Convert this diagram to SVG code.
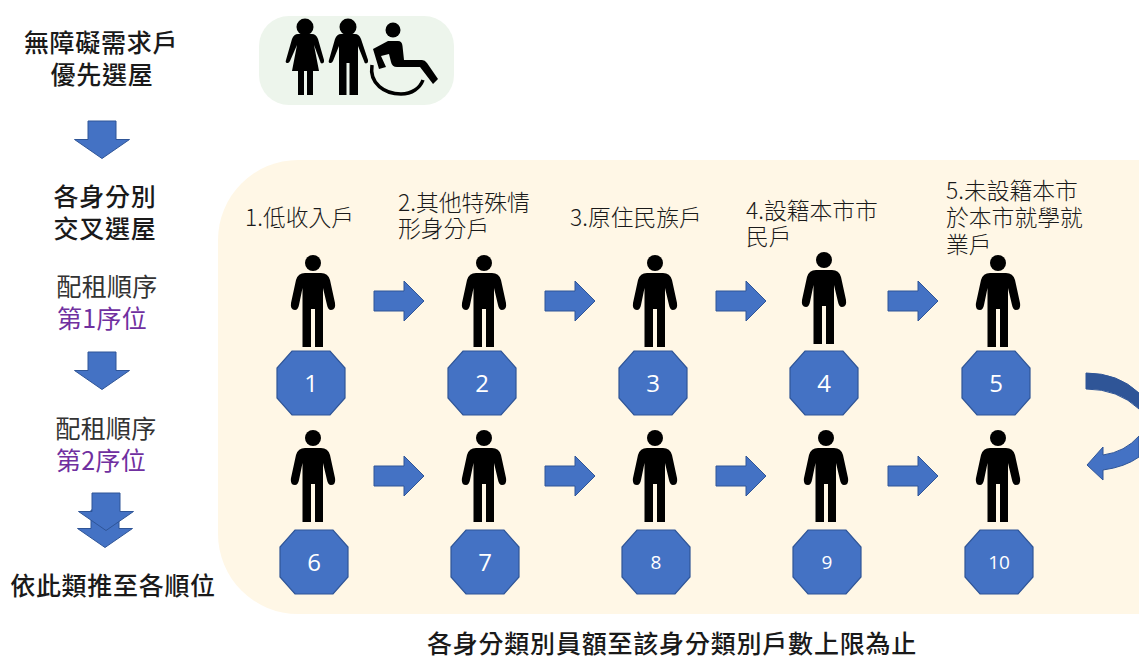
<svg xmlns="http://www.w3.org/2000/svg" xmlns:xlink="http://www.w3.org/1999/xlink" width="1139" height="657" viewBox="0 0 1139 657">
<style>
text{font-family:"Noto Sans CJK TC","Liberation Sans",sans-serif;fill:#1a1a1a}
.b{font-size:25px;font-weight:500;text-anchor:middle;letter-spacing:.7px}
.m{font-size:25px;text-anchor:middle;fill:#333;letter-spacing:.3px}
.p{fill:#7030a0}
.l{font-size:22.800px;font-weight:300}
.n{font-family:"Open Sans","Liberation Sans",sans-serif;fill:#fff;text-anchor:middle;font-size:24px}
.oct{fill:#4472c4;stroke:#2f5597;stroke-width:1.2}
.ar{fill:#4472c4;stroke:#2f5597;stroke-width:1}
</style>
<defs>
<g id="person"><circle cx="0" cy="8" r="8"/><path d="M-8,18H8Q15,18 17,25L22,48Q23,55 18,55Q15,55 14,50L10,33V92H2V54H-2V92H-10.500V33L-14,50Q-15,55 -18,55Q-23,55 -22,48L-17,25Q-15,18 -8,18Z"/></g>
<path id="oct" class="oct" d="M-19,-32H19L34,-15V15L19,32H-19L-34,15V-15Z"/>
<path id="right" class="ar" d="M0,10H30V0L50,20L30,40V30H0Z"/>
<path id="down" class="ar" d="M-14,0H14V18.500H27.500L0,37.500L-27.500,18.500H-14Z"/>
</defs>
<rect width="1139" height="657" fill="#fff"/>
<rect id="panel" x="218" y="160" width="1000" height="454" rx="80" fill="#fff7e6"/>
<g id="icon">
<rect x="259" y="16" width="195" height="89" rx="30" fill="#edf5ec"/>
<circle cx="305" cy="27" r="8.500"/><path d="M298,34H312Q316,34 318,39L324,60Q324.500,63 322,63.500Q320.500,63.500 320,61L314,45L319,71H313V95H307V71H304V95H298V71H292L297,45L290,61Q289,63.500 287,63Q285,62.500 286,60L292,39Q294,34 298,34Z"/>
<circle cx="348" cy="27" r="8.500"/><path d="M341,34H355Q359,34 361,39L368,60Q368.500,63 366,63.500Q364.500,63.500 364,61L358,46V95H349.500V63H346.500V95H339V46L333,61Q332,63.500 330,63Q328,62.500 329,60L335,39Q337,34 341,34Z"/>
<circle cx="393" cy="30" r="7.500"/><path d="M373,49L388,41H398Q402,41 402.500,46L404,60H422Q425,60 427,63L438,79L433,84L420,67H397Q392,67 391,62L389,54L381,56L386,67L379,69Z"/>
<path d="M372,65C369,84 385,94 401,94C412,94 420,88 423,80" fill="none" stroke="#000" stroke-width="3.500"/>
</g>
<g id="left-text">
<text class="b"><tspan x="101" y="52">無障礙需求戶</tspan><tspan x="102" y="84">優先選屋</tspan></text>
<text class="b"><tspan x="105" y="206">各身分別</tspan><tspan x="105" y="238">交叉選屋</tspan></text>
<text class="m"><tspan x="107" y="296">配租順序</tspan><tspan class="p" x="102" y="328">第1序位</tspan></text>
<text class="m"><tspan x="106" y="438">配租順序</tspan><tspan class="p" x="101" y="470">第2序位</tspan></text>
<text class="b" x="113" y="595">依此類推至各順位</text>
</g>
<g id="flow-arrows">
<use xlink:href="#down" href="#down" transform="translate(102,121)"/>
<use xlink:href="#down" href="#down" transform="translate(102,352)"/>
<use xlink:href="#down" href="#down" transform="translate(105,510)"/>
<use xlink:href="#down" href="#down" transform="translate(106,493)"/>
</g>
<g id="labels">
<text class="l" x="245" y="226">1.低收入戶</text>
<text class="l"><tspan x="398" y="211">2.其他特殊情</tspan><tspan x="398" y="237">形身分戶</tspan></text>
<text class="l" x="570" y="226">3.原住民族戶</text>
<text class="l"><tspan x="746" y="219">4.設籍本市市</tspan><tspan x="746" y="245">民戶</tspan></text>
<text class="l"><tspan x="946" y="199">5.未設籍本市</tspan><tspan x="946" y="226">於本市就學就</tspan><tspan x="946" y="253">業戶</tspan></text>
</g>
<g id="node-1"><use xlink:href="#person" href="#person" x="313" y="255"/><use xlink:href="#oct" href="#oct" x="311" y="383"/><text class="n" x="311" y="392">1</text></g>
<g id="node-2"><use xlink:href="#person" href="#person" x="484" y="255"/><use xlink:href="#oct" href="#oct" x="482" y="383"/><text class="n" x="482" y="392">2</text></g>
<g id="node-3"><use xlink:href="#person" href="#person" x="655" y="255"/><use xlink:href="#oct" href="#oct" x="653" y="383"/><text class="n" x="653" y="392">3</text></g>
<g id="node-4"><use xlink:href="#person" href="#person" x="824" y="252"/><use xlink:href="#oct" href="#oct" x="824" y="383"/><text class="n" x="824" y="392">4</text></g>
<g id="node-5"><use xlink:href="#person" href="#person" x="998" y="255"/><use xlink:href="#oct" href="#oct" x="996" y="383"/><text class="n" x="996" y="392">5</text></g>
<g id="node-6"><use xlink:href="#person" href="#person" x="313" y="430"/><use xlink:href="#oct" href="#oct" x="314" y="562"/><text class="n" x="314" y="571">6</text></g>
<g id="node-7"><use xlink:href="#person" href="#person" x="484" y="430"/><use xlink:href="#oct" href="#oct" x="485" y="562"/><text class="n" x="485" y="571">7</text></g>
<g id="node-8"><use xlink:href="#person" href="#person" x="655" y="430"/><use xlink:href="#oct" href="#oct" x="656" y="562"/><text class="n" x="656" y="569" style="font-size:19px">8</text></g>
<g id="node-9"><use xlink:href="#person" href="#person" x="826" y="430"/><use xlink:href="#oct" href="#oct" x="827" y="562"/><text class="n" x="827" y="569" style="font-size:19px">9</text></g>
<g id="node-10"><use xlink:href="#person" href="#person" x="998" y="430"/><use xlink:href="#oct" href="#oct" x="999" y="562"/><text class="n" x="999" y="569" style="font-size:19px">10</text></g>
<g id="connectors">
<use xlink:href="#right" href="#right" x="374" y="281"/><use xlink:href="#right" href="#right" x="545" y="281"/><use xlink:href="#right" href="#right" x="716" y="281"/><use xlink:href="#right" href="#right" x="888" y="281"/>
<use xlink:href="#right" href="#right" x="374" y="456"/><use xlink:href="#right" href="#right" x="545" y="456"/><use xlink:href="#right" href="#right" x="716" y="456"/><use xlink:href="#right" href="#right" x="888" y="456"/>
<path d="M1086,373Q1118,373 1139,393V409Q1118,389 1086,389Z" fill="#2f5597" stroke="#2f5597"/>
<path d="M1139,436V457Q1125,467 1103,470V480L1087,465L1103,447V455Q1125,452 1139,436Z" fill="#4472c4" stroke="#2f5597"/>
</g>
<text id="footer" x="672" y="653" text-anchor="middle" style="font-size:25px;font-weight:500;letter-spacing:.8px">各身分類別員額至該身分類別戶數上限為止</text>
</svg>
